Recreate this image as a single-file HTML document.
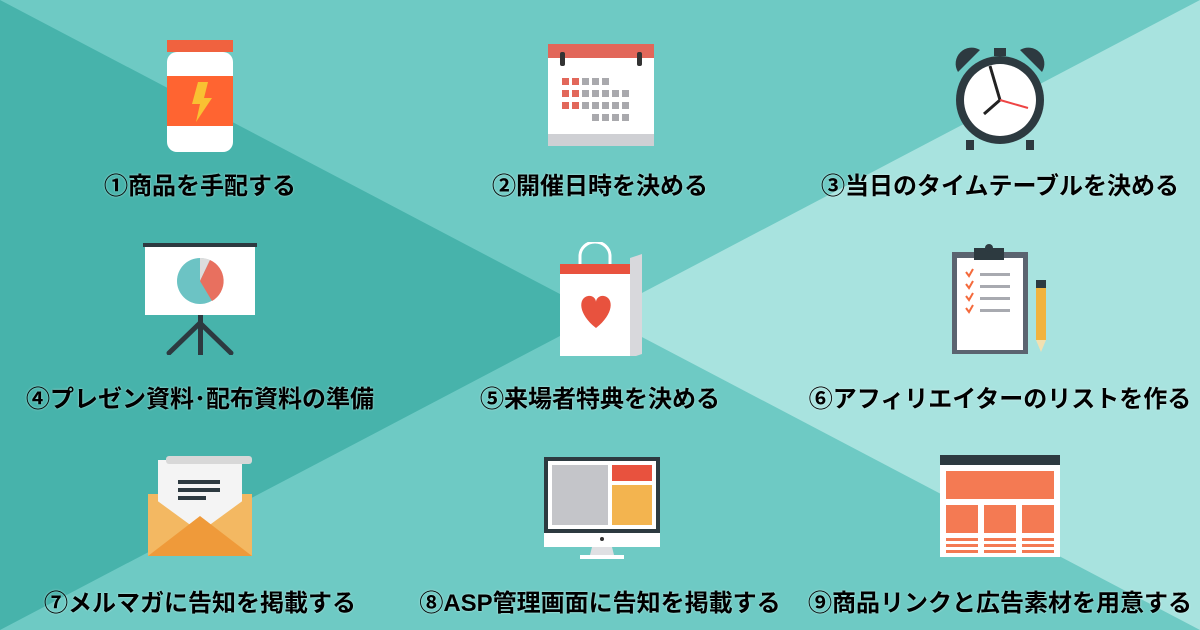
<!DOCTYPE html>
<html><head><meta charset="utf-8"><style>
html,body{margin:0;padding:0}
body{width:1200px;height:630px;position:relative;overflow:hidden;font-family:"Liberation Sans","Noto Sans CJK JP",sans-serif}
.bg{position:absolute;left:0;top:0}
.t{position:absolute;font-size:24px;font-weight:bold;color:#000;white-space:nowrap;transform:translateX(-50%);text-shadow:0 0 2px rgba(255,255,255,.6);line-height:30px}
svg.i{position:absolute}
</style></head><body>
<svg class="bg" width="1200" height="630">
<rect width="1200" height="630" fill="#6ecac4"/>
<polygon points="0,0 600,315 0,630" fill="#47b3ab"/>
<polygon points="1200,0 600,315 1200,630" fill="#a8e3df"/>
</svg>
<!-- 1 bottle -->
<svg class="i" style="left:160px;top:38px" width="80" height="120">
<rect x="7" y="2" width="66" height="12" fill="#f0623f"/>
<rect x="7" y="14" width="66" height="100" rx="10" fill="#fff"/>
<rect x="7" y="38" width="66" height="50" fill="#ff6431"/>
<polygon points="38,44 48,44 44,60 52,60 36,84 40,66 32,66" fill="#f9c132"/>
</svg>
<!-- 2 calendar -->
<svg class="i" style="left:546px;top:44px" width="110" height="106">
<rect x="2" y="0" width="106" height="102" fill="#fff"/>
<rect x="2" y="0" width="106" height="14" fill="#e2675a"/>
<rect x="2" y="90" width="106" height="12" fill="#cfd0d4"/>
<rect x="14" y="8" width="5" height="14" rx="2" fill="#333"/><rect x="91" y="8" width="5" height="14" rx="2" fill="#333"/>
<g fill="#e2675a"><rect x="16" y="34" width="7" height="7"/><rect x="26" y="34" width="7" height="7"/><rect x="16" y="46" width="7" height="7"/><rect x="26" y="46" width="7" height="7"/><rect x="16" y="58" width="7" height="7"/><rect x="26" y="58" width="7" height="7"/></g>
<g fill="#a9a9ad"><rect x="36" y="34" width="7" height="7"/><rect x="46" y="34" width="7" height="7"/><rect x="56" y="34" width="7" height="7"/>
<rect x="36" y="46" width="7" height="7"/><rect x="46" y="46" width="7" height="7"/><rect x="56" y="46" width="7" height="7"/><rect x="66" y="46" width="7" height="7"/><rect x="76" y="46" width="7" height="7"/>
<rect x="36" y="58" width="7" height="7"/><rect x="46" y="58" width="7" height="7"/><rect x="56" y="58" width="7" height="7"/><rect x="66" y="58" width="7" height="7"/><rect x="76" y="58" width="7" height="7"/>
<rect x="46" y="70" width="7" height="7"/><rect x="56" y="70" width="7" height="7"/><rect x="66" y="70" width="7" height="7"/><rect x="76" y="70" width="7" height="7"/></g>
</svg>
<!-- 3 clock -->
<svg class="i" style="left:950px;top:42px" width="100" height="110">
<path d="M8,30 A16,16 0 0 1 30,8 Z" fill="#2d3a40"/><path d="M92,30 A16,16 0 0 0 70,8 Z" fill="#2d3a40"/>
<rect x="44" y="6" width="12" height="8" fill="#2d3a40"/>
<circle cx="50" cy="58" r="44" fill="#2d3a40"/><circle cx="50" cy="58" r="36" fill="#fff"/>
<line x1="50" y1="58" x2="40" y2="24" stroke="#222" stroke-width="3"/>
<line x1="50" y1="58" x2="34" y2="72" stroke="#222" stroke-width="3"/>
<line x1="50" y1="58" x2="78" y2="66" stroke="#e44" stroke-width="2"/>
<rect x="16" y="98" width="8" height="10" fill="#2d3a40"/><rect x="76" y="98" width="8" height="10" fill="#2d3a40"/>
</svg>
<!-- 4 presentation -->
<svg class="i" style="left:143px;top:243px" width="116" height="112">
<rect x="0" y="0" width="114" height="4" fill="#2d3a40"/>
<rect x="2" y="4" width="110" height="68" fill="#fff"/>
<circle cx="57" cy="38" r="23" fill="#6cc3c4"/>
<path d="M57,38 L57,15 A23,23 0 0 1 67,17 Z" fill="#ddd"/>
<path d="M57,38 L67,17 A23,23 0 0 1 69,58 Z" fill="#e8705f"/>
<rect x="55" y="72" width="5" height="40" fill="#2d3a40"/>
<line x1="57" y1="80" x2="26" y2="110" stroke="#2d3a40" stroke-width="5" stroke-linecap="round"/>
<line x1="57" y1="80" x2="88" y2="110" stroke="#2d3a40" stroke-width="5" stroke-linecap="round"/>
</svg>
<!-- 5 bag -->
<svg class="i" style="left:558px;top:242px" width="86" height="114">
<path d="M22,26 V14 A15,14 0 0 1 52,14 V26" fill="none" stroke="#fff" stroke-width="3"/>
<rect x="2" y="22" width="70" height="10" fill="#e8523e"/>
<polygon points="72,16 84,12 84,112 72,116" fill="#d8d8dc"/>
<rect x="2" y="32" width="70" height="82" fill="#fff"/>
<path d="M38,86 C20,72 20,56 30,54 C35,53 38,57 38,60 C38,57 41,53 46,54 C56,56 56,72 38,86 Z" fill="#e8523e"/>
</svg>
<!-- 6 clipboard -->
<svg class="i" style="left:950px;top:244px" width="100" height="112">
<rect x="2" y="8" width="76" height="102" fill="#5b6470"/>
<rect x="7" y="14" width="66" height="92" fill="#fff"/>
<rect x="24" y="4" width="30" height="12" fill="#2d3a40"/><circle cx="39" cy="4" r="4" fill="#2d3a40"/>
<g stroke="#f46a3c" stroke-width="2" fill="none"><path d="M16,28 l3,4 l4,-7"/><path d="M16,40 l3,4 l4,-7"/><path d="M16,52 l3,4 l4,-7"/><path d="M16,64 l3,4 l4,-7"/></g>
<g fill="#a8aab0"><rect x="30" y="29" width="30" height="3"/><rect x="30" y="41" width="30" height="3"/><rect x="30" y="53" width="30" height="3"/><rect x="30" y="65" width="30" height="3"/></g>
<rect x="86" y="44" width="10" height="52" fill="#f2b33d"/><rect x="86" y="36" width="10" height="8" fill="#2d3a40"/>
<polygon points="86,96 96,96 91,108" fill="#f2e0b0"/>
</svg>
<!-- 7 envelope -->
<svg class="i" style="left:146px;top:454px" width="110" height="104">
<rect x="2" y="40" width="104" height="62" fill="#f3b862"/>
<rect x="12" y="6" width="84" height="80" fill="#f4f4f4"/>
<rect x="20" y="2" width="86" height="8" rx="3" fill="#d8d8d8"/>
<g fill="#2d3a40"><rect x="32" y="26" width="42" height="4"/><rect x="32" y="34" width="42" height="4"/><rect x="32" y="42" width="28" height="4"/></g>
<polygon points="2,40 54,78 2,102" fill="#f3b862"/><polygon points="106,40 54,78 106,102" fill="#f3b862"/>
<polygon points="2,102 54,62 106,102" fill="#ef9a3a"/>
</svg>
<!-- 8 monitor -->
<svg class="i" style="left:542px;top:455px" width="120" height="104">
<rect x="2" y="2" width="116" height="76" fill="#2d3a40"/>
<rect x="6" y="6" width="108" height="68" fill="#fff"/>
<rect x="10" y="10" width="56" height="60" fill="#c4c5c9"/>
<rect x="70" y="10" width="40" height="16" fill="#e8523e"/>
<rect x="70" y="30" width="40" height="40" fill="#f3b44f"/>
<rect x="2" y="78" width="116" height="14" fill="#fff"/>
<circle cx="60" cy="84" r="2" fill="#333"/>
<polygon points="50,92 70,92 72,100 48,100" fill="#dfe0e3"/>
<rect x="38" y="100" width="44" height="4" fill="#fff"/>
</svg>
<!-- 9 web page -->
<svg class="i" style="left:940px;top:455px" width="120" height="102">
<rect x="0" y="0" width="120" height="102" fill="#fff"/>
<rect x="0" y="0" width="120" height="10" fill="#2d3a40"/>
<rect x="6" y="16" width="108" height="28" fill="#f47a53"/>
<rect x="6" y="50" width="32" height="28" fill="#f47a53"/><rect x="44" y="50" width="32" height="28" fill="#f47a53"/><rect x="82" y="50" width="32" height="28" fill="#f47a53"/>
<g fill="#f47a53"><rect x="6" y="83" width="32" height="3"/><rect x="44" y="83" width="32" height="3"/><rect x="82" y="83" width="32" height="3"/>
<rect x="6" y="89" width="32" height="3"/><rect x="44" y="89" width="32" height="3"/><rect x="82" y="89" width="32" height="3"/>
<rect x="6" y="95" width="32" height="3"/><rect x="44" y="95" width="32" height="3"/><rect x="82" y="95" width="32" height="3"/></g>
</svg>

<div class="t" style="left:200px;top:172px">①商品を手配する</div>
<div class="t" style="left:600px;top:172px">②開催日時を決める</div>
<div class="t" style="left:1000px;top:172px">③当日のタイムテーブルを決める</div>
<div class="t" style="left:200px;top:385px">④プレゼン資料･配布資料の準備</div>
<div class="t" style="left:600px;top:385px">⑤来場者特典を決める</div>
<div class="t" style="left:1000px;top:385px">⑥アフィリエイターのリストを作る</div>
<div class="t" style="left:200px;top:589px">⑦メルマガに告知を掲載する</div>
<div class="t" style="left:600px;top:589px">⑧ASP管理画面に告知を掲載する</div>
<div class="t" style="left:1000px;top:589px">⑨商品リンクと広告素材を用意する</div>
</body></html>
